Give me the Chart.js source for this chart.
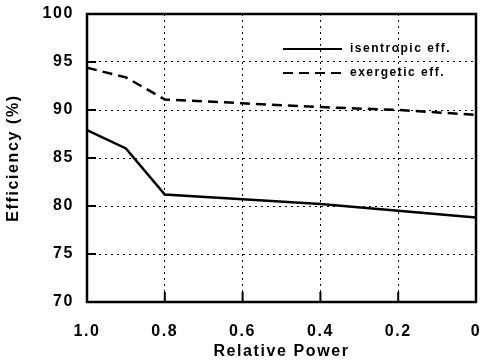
<!DOCTYPE html>
<html>
<head>
<meta charset="utf-8">
<script src="https://cdn.jsdelivr.net/npm/chart.js@4/dist/chart.umd.min.js"></script>
<style>
    html, body { margin: 0; padding: 0; background: #fff; }
    #wrap { width: 482px; height: 362px; }
</style>
</head>
<body>
<div id="wrap"><canvas id="effChart" width="482" height="362"></canvas></div>
<script>
// ---------- data ----------
const relPower = [1.0, 0.9, 0.8, 0.6, 0.4, 0.2, 0.0];
const isentropicEff = [87.9, 86.0, 81.2, 80.7, 80.2, 79.5, 78.8];
const exergeticEff = [94.4, 93.4, 91.1, 90.7, 90.3, 90.0, 89.5];

const xTicks = [1.0, 0.8, 0.6, 0.4, 0.2, 0];
const yTicks = [70, 75, 80, 85, 90, 95, 100];

const INK = '#000';
const FONT = 'Liberation Sans, Arial, Helvetica, sans-serif';
const SPACING = '1.6px';

function toPoints(ys) {
    return relPower.map((x, i) => ({ x, y: ys[i] }));
}

// frame, inward tick marks, and the in-plot legend
const framePlugin = {
    id: 'frame',
    beforeLayout(chart) {
        chart.ctx.letterSpacing = SPACING;
    },
    beforeDraw(chart) {
        chart.ctx.letterSpacing = SPACING;
    },
    afterDatasetsDraw(chart) {
        const { ctx, chartArea: a, scales } = chart;
        ctx.save();
        ctx.strokeStyle = INK;
        ctx.lineWidth = 2.5;
        ctx.setLineDash([]);
        ctx.strokeRect(a.left, a.top, a.right - a.left, a.bottom - a.top);

        // inward ticks
        ctx.lineWidth = 2;
        ctx.beginPath();
        xTicks.forEach(v => {
            const px = scales.x.getPixelForValue(v);
            ctx.moveTo(px, a.bottom);
            ctx.lineTo(px, a.bottom - 10);
        });
        yTicks.forEach(v => {
            const py = scales.y.getPixelForValue(v);
            ctx.moveTo(a.left, py);
            ctx.lineTo(a.left + 9, py);
        });
        ctx.stroke();

        // legend
        const lx0 = a.left + 196, lx1 = a.left + 255, tx = a.left + 263;
        const rows = [{ y: a.top + 35, ds: chart.data.datasets[0] }, { y: a.top + 59, ds: chart.data.datasets[1] }];
        ctx.font = 'bold 12px ' + FONT;
        ctx.letterSpacing = '1.5px';
        ctx.textBaseline = 'middle';
        ctx.textAlign = 'left';
        ctx.fillStyle = INK;
        rows.forEach(r => {
            ctx.lineWidth = 2;
            ctx.setLineDash(r.ds.borderDash || []);
            ctx.beginPath();
            ctx.moveTo(lx0, r.y);
            ctx.lineTo(lx1, r.y);
            ctx.stroke();
            ctx.setLineDash([]);
            ctx.fillText(r.ds.label, tx, r.y);
        });
        ctx.restore();
    }
};

const chart = new Chart(document.getElementById('effChart'), {
    type: 'line',
    data: {
        datasets: [
            {
                label: 'isentropic eff.',
                data: toPoints(isentropicEff),
                borderColor: INK,
                borderWidth: 2.5,
                pointRadius: 0,
                tension: 0,
                fill: false,
            },
            {
                label: 'exergetic eff.',
                data: toPoints(exergeticEff),
                borderColor: INK,
                borderWidth: 2.5,
                borderDash: [10, 6],
                pointRadius: 0,
                tension: 0,
                fill: false,
            },
        ]
    },
    options: {
        responsive: false,
        animation: false,
        devicePixelRatio: 1,
        layout: { padding: { top: 14, right: 6, left: 0, bottom: 0 } },
        plugins: {
            legend: { display: false },
            tooltip: { enabled: false },
        },
        scales: {
            x: {
                type: 'linear',
                reverse: true,
                min: 0,
                max: 1,
                afterBuildTicks: (s) => { s.ticks = xTicks.map(v => ({ value: v })); },
                afterFit: (s) => { s.height = 60; s.paddingLeft = 0; s.paddingRight = 0; },
                ticks: {
                    color: INK,
                    padding: 20,
                    font: { family: FONT, size: 16, weight: 'bold' },
                    callback: (v) => v === 0 ? '0' : Number(v).toFixed(1),
                    maxRotation: 0,
                },
                grid: { color: INK, lineWidth: 1, drawTicks: false },
                border: { display: false, dash: [2, 4] },
                title: {
                    display: true,
                    text: 'Relative Power',
                    color: INK,
                    font: { family: FONT, size: 16, weight: 'bold' },
                    padding: { top: 0, bottom: 1 },
                },
            },
            y: {
                min: 70,
                max: 100,
                afterBuildTicks: (s) => { s.ticks = yTicks.map(v => ({ value: v })); },
                afterFit: (s) => { s.width = 87; s.paddingTop = 0; s.paddingBottom = 0; },
                ticks: {
                    color: INK,
                    padding: 13,
                    font: { family: FONT, size: 16, weight: 'bold' },
                },
                grid: { color: INK, lineWidth: 1, drawTicks: false },
                border: { display: false, dash: [2, 4] },
                title: {
                    display: true,
                    text: 'Efficiency (%)',
                    color: INK,
                    font: { family: FONT, size: 16, weight: 'bold' },
                    padding: { top: 4, bottom: 0 },
                },
            },
        }
    },
    plugins: [framePlugin]
});
</script>
</body>
</html>
